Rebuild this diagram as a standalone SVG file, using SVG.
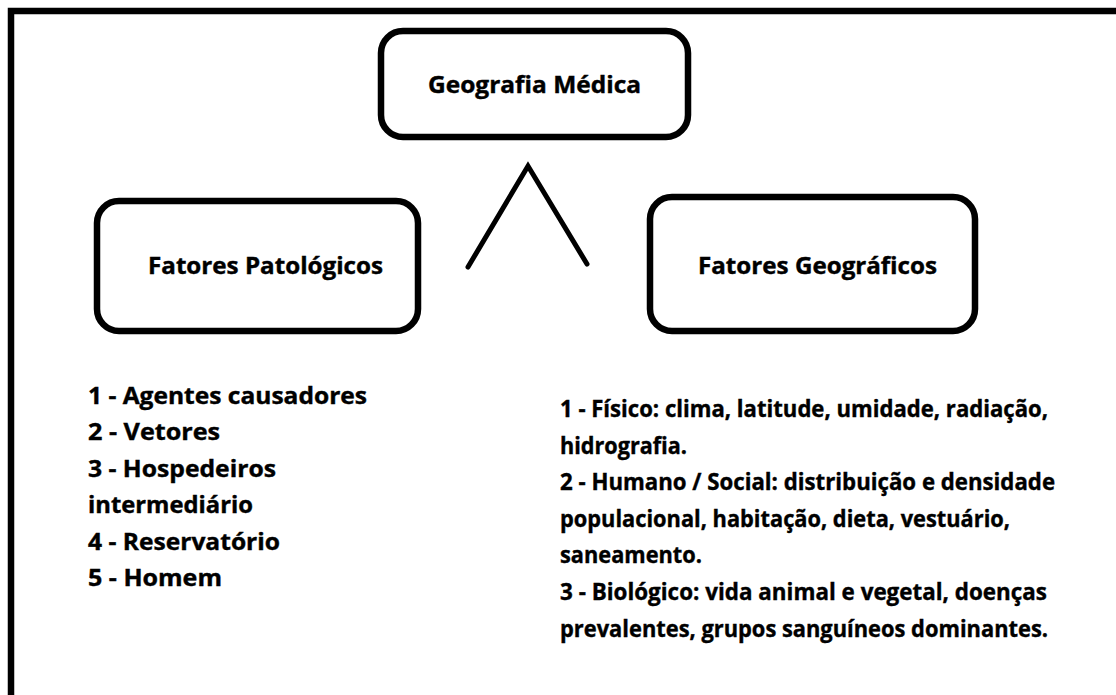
<svg xmlns="http://www.w3.org/2000/svg" width="1116" height="695" viewBox="0 0 1116 695">
<style>
.box{fill:#fff;stroke:#000;stroke-width:6.5}
.ln{stroke:#000;stroke-width:5;stroke-linecap:round;fill:none}
text{font-family:"Open Sans","Noto Sans","DejaVu Sans",sans-serif;font-weight:bold;font-size:23px;fill:#000;stroke:#000;stroke-width:0.4}
.t{font-size:22.5px}
</style>
<rect x="0" y="0" width="1116" height="695" fill="#fff"/>
<path d="M11 695 V11 H1116" fill="none" stroke="#000" stroke-width="6.5"/>
<g id="connectors">
<polyline class="ln" points="468,267 528,166 587,264"/>
</g>
<g id="geografia-medica">
<rect class="box" x="381" y="31" width="307" height="106" rx="22"/>
<text class="t" x="428" y="93" textLength="213" lengthAdjust="spacingAndGlyphs">Geografia Médica</text>
</g>
<g id="fatores-patologicos">
<rect class="box" x="97" y="201" width="321" height="130" rx="22"/>
<text class="t" x="148" y="274" textLength="235" lengthAdjust="spacingAndGlyphs">Fatores Patológicos</text>
</g>
<g id="fatores-geograficos">
<rect class="box" x="650" y="197" width="325" height="134" rx="22"/>
<text class="t" x="698" y="274" textLength="239" lengthAdjust="spacingAndGlyphs">Fatores Geográficos</text>
</g>
<g id="lista-patologicos">
<text x="88" y="403.5" textLength="279" lengthAdjust="spacingAndGlyphs">1 - Agentes causadores</text>
<text x="88" y="440" textLength="132" lengthAdjust="spacingAndGlyphs">2 - Vetores</text>
<text x="88" y="476.5" textLength="188" lengthAdjust="spacingAndGlyphs">3 - Hospedeiros</text>
<text x="88" y="513" textLength="165" lengthAdjust="spacingAndGlyphs">intermediário</text>
<text x="88" y="549.5" textLength="192" lengthAdjust="spacingAndGlyphs">4 - Reservatório</text>
<text x="88" y="586" textLength="134" lengthAdjust="spacingAndGlyphs">5 - Homem</text>
</g>
<g id="lista-geograficos">
<text x="560" y="417" textLength="488" lengthAdjust="spacingAndGlyphs">1 - Físico: clima, latitude, umidade, radiação,</text>
<text x="560" y="453.5" textLength="127" lengthAdjust="spacingAndGlyphs">hidrografia.</text>
<text x="560" y="490" textLength="495" lengthAdjust="spacingAndGlyphs">2 - Humano / Social: distribuição e densidade</text>
<text x="560" y="527" textLength="450" lengthAdjust="spacingAndGlyphs">populacional, habitação, dieta, vestuário,</text>
<text x="560" y="563" textLength="142" lengthAdjust="spacingAndGlyphs">saneamento.</text>
<text x="560" y="600" textLength="487" lengthAdjust="spacingAndGlyphs">3 - Biológico: vida animal e vegetal, doenças</text>
<text x="560" y="637" textLength="488" lengthAdjust="spacingAndGlyphs">prevalentes, grupos sanguíneos dominantes.</text>
</g>
</svg>
